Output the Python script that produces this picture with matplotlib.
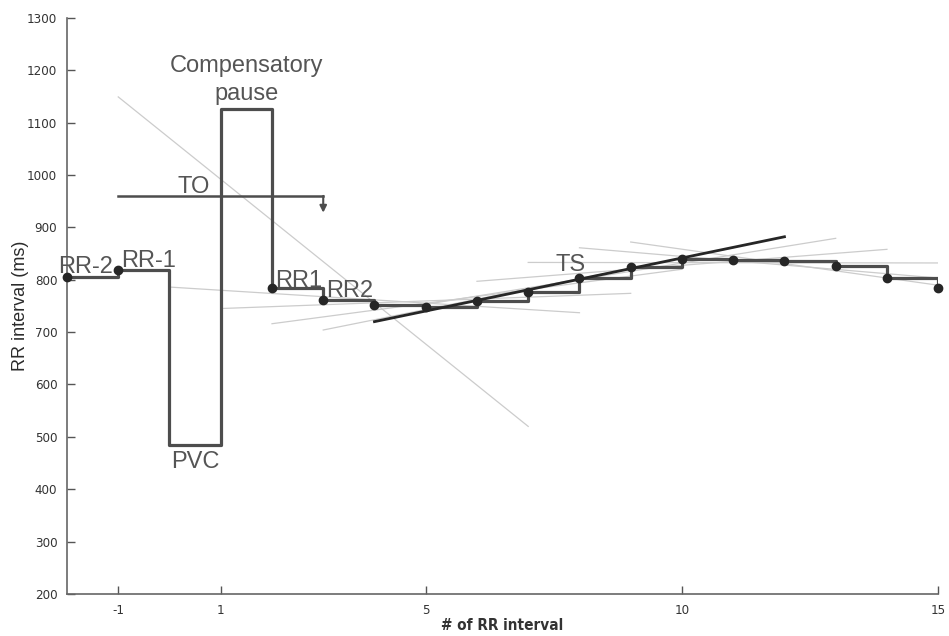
import numpy as np
import matplotlib
matplotlib.use("Agg")
import matplotlib.pyplot as plt

plt.rcParams['axes.unicode_minus'] = False

# RR intervals (ms) around the PVC, index 0 = PVC, 1 = compensatory pause
beat = [-2, -1, 0, 1, 2, 3, 4, 5, 6, 7, 8, 9, 10, 11, 12, 13, 14, 15]
rr = [805, 818, 485, 1125, 784, 762, 752, 748, 760, 776, 803, 825, 839, 837, 835, 826, 803, 784]
# beats that get a dot (not the PVC and the pause)
dot_beat = [-2, -1, 2, 3, 4, 5, 6, 7, 8, 9, 10, 11, 12, 13, 14, 15]
dot_rr = [805, 818, 784, 762, 752, 748, 760, 776, 803, 825, 839, 837, 835, 826, 803, 784]

# local slope lines (start beat, start rr, end beat, end rr)
fit_x0 = [-1, 0, 1, 2, 3, 5, 6, 7, 8, 9]
fit_y0 = [1149, 786, 745, 716, 704, 753, 797, 833, 861, 872]
fit_x1 = [7, 8, 9, 10, 11, 13, 14, 15, 16, 17]
fit_y1 = [520, 737, 774, 820, 861, 879, 858, 832, 795, 762]

# steepest one = turbulence slope
ts_x = [4, 12]
ts_y = [720, 882]

# turbulence onset reference line
to_x = [-1, 3]
to_y = [960, 960]
to_arrow_end = 928

labels = ["RR-2", "RR-1", "RR1", "RR2", "TS", "TO"]
label_x = [-2.18, -0.95, 2.06, 3.05, 7.53, 0.16]
label_y = [813, 824, 786, 767, 816, 965]

fig = plt.figure(figsize=(9.49, 6.36), dpi=100)
ax = fig.add_axes([0.0706, 0.066, 0.918, 0.906])

txt = '#555555'
tickfont = dict(family='DejaVu Sans', stretch='condensed', size=9.5)

for i in range(len(fit_x0)):
    ax.plot([fit_x0[i], fit_x1[i]], [fit_y0[i], fit_y1[i]], color='#cccccc', lw=0.9, zorder=1)

ax.plot(beat, rr, drawstyle='steps-post', color='#4d4d4d', lw=2.3, zorder=2)
ax.plot(dot_beat, dot_rr, 'o', color='#262626', ms=6, zorder=4, clip_on=False)
ax.plot(ts_x, ts_y, color='#262626', lw=2.0, zorder=3)

ax.plot(to_x, to_y, color='#4d4d4d', lw=1.8, zorder=2)
ax.annotate('', xy=(to_x[1], to_arrow_end), xytext=(to_x[1], to_y[1]),
            arrowprops=dict(arrowstyle='-|>', color='#4d4d4d', lw=1.5,
                            mutation_scale=10, shrinkA=0, shrinkB=0))

for t, x, y in zip(labels, label_x, label_y):
    ax.text(x, y, t, fontsize=17, color=txt, ha='left', va='baseline',
            family='Liberation Sans', clip_on=False, zorder=5)
ax.text(0.5, 440, 'PVC', fontsize=17, color=txt, ha='center', va='baseline',
        family='Liberation Sans')
ax.text(1.5, 1196, 'Compensatory', fontsize=17, color=txt, ha='center', va='baseline',
        family='Liberation Sans')
ax.text(1.5, 1143, 'pause', fontsize=17, color=txt, ha='center', va='baseline',
        family='Liberation Sans')

ax.set_xlim(-2, 15)
ax.set_ylim(200, 1300)
ax.set_xticks([-1, 1, 5, 10, 15])
ax.set_yticks(np.arange(200, 1301, 100))
ax.tick_params(direction='in', length=6, width=1, color='#555555', labelcolor='#333333', pad=7)
for lab in ax.get_xticklabels() + ax.get_yticklabels():
    lab.set_fontproperties(tickfont)

for s in ['top', 'right']:
    ax.spines[s].set_visible(False)
for s in ['left', 'bottom']:
    ax.spines[s].set_color('#666666')
    ax.spines[s].set_linewidth(1.2)

ax.set_ylabel('RR interval (ms)', fontsize=13, color='#2b2b2b', family='Liberation Sans')
ax.yaxis.set_label_coords(-0.044, 0.5)
ax.set_xlabel('# of RR interval', fontsize=11, color='#333333', weight='bold',
              family='DejaVu Sans', stretch='condensed', labelpad=1)

fig.savefig('out.png', dpi=100)
